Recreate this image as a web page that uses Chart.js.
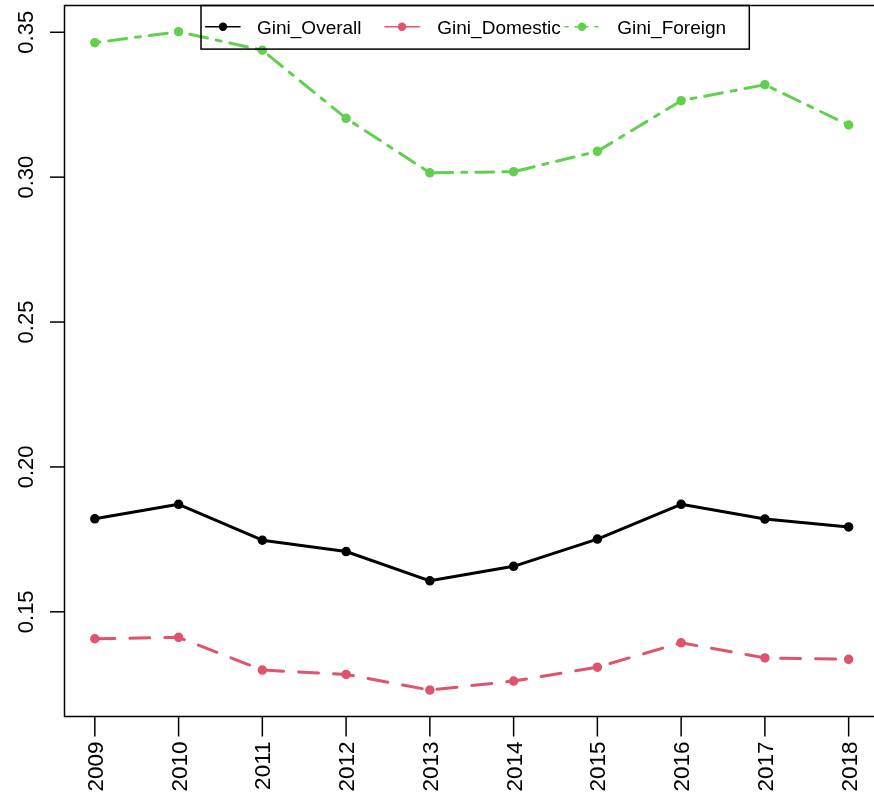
<!DOCTYPE html>
<html>
<head>
<meta charset="utf-8">
<script src="https://cdn.jsdelivr.net/npm/chart.js@4/dist/chart.umd.min.js"></script>
<style>
  html, body { margin: 0; padding: 0; background: #ffffff; overflow: hidden; }
  #wrap { position: relative; width: 874px; height: 801px; }
</style>
</head>
<body>
<div id="wrap"><canvas id="c" width="874" height="801"></canvas></div>
<script>
// Gini coefficients by year
const years = [2009, 2010, 2011, 2012, 2013, 2014, 2015, 2016, 2017, 2018];
const giniOverall  = [0.1821, 0.1871, 0.1747, 0.1708, 0.1607, 0.1657, 0.1751, 0.1871, 0.1820, 0.1793];
const giniDomestic = [0.1407, 0.1412, 0.1299, 0.1284, 0.1230, 0.1261, 0.1309, 0.1393, 0.1341, 0.1336];
const giniForeign  = [0.3464, 0.3502, 0.3438, 0.3203, 0.3015, 0.3019, 0.3089, 0.3264, 0.3319, 0.3180];
const seriesNames  = ['Gini_Overall', 'Gini_Domestic', 'Gini_Foreign'];
const yTicks       = [0.15, 0.20, 0.25, 0.30, 0.35];
const yTickLabels  = ['0.15', '0.20', '0.25', '0.30', '0.35'];

const FONT = '"Liberation Sans", Arial, Helvetica, sans-serif';
const toPoints = vals => vals.map((v, i) => ({ x: years[i], y: v }));

function series(label, vals, color, dash) {
  return {
    label: label,
    data: toPoints(vals),
    borderColor: color,
    backgroundColor: color,
    borderWidth: 3,
    borderDash: dash,
    borderCapStyle: 'round',
    borderJoinStyle: 'round',
    pointRadius: 4,
    pointBorderWidth: 1.5,
    pointBackgroundColor: color,
    pointBorderColor: color,
    tension: 0
  };
}

// Axes, frame and legend drawn in base-graphics style
const framePlugin = {
  id: 'frame',
  afterDraw(chart) {
    const ctx = chart.ctx;
    const a = chart.chartArea;
    const xs = chart.scales.x, ys = chart.scales.y;
    ctx.save();
    ctx.strokeStyle = '#000';
    ctx.fillStyle = '#000';
    ctx.lineWidth = 1.5;

    // plot box (right side runs past the canvas edge)
    ctx.beginPath();
    ctx.moveTo(a.right + 20, a.top);
    ctx.lineTo(a.left, a.top);
    ctx.lineTo(a.left, a.bottom);
    ctx.lineTo(a.right + 20, a.bottom);
    ctx.stroke();

    // y axis ticks and rotated labels
    ctx.font = '22px ' + FONT;
    yTicks.forEach((v, i) => {
      const py = ys.getPixelForValue(v);
      ctx.beginPath();
      ctx.moveTo(a.left - 14.5, py);
      ctx.lineTo(a.left, py);
      ctx.stroke();
      ctx.save();
      ctx.translate(a.left - 32, py);
      ctx.rotate(-Math.PI / 2);
      ctx.textAlign = 'center';
      ctx.textBaseline = 'alphabetic';
      ctx.fillText(yTickLabels[i], 0, 0);
      ctx.restore();
    });

    // x axis ticks and vertical labels
    ctx.font = '22.5px ' + FONT;
    years.forEach(yr => {
      const px = xs.getPixelForValue(yr);
      ctx.beginPath();
      ctx.moveTo(px, a.bottom);
      ctx.lineTo(px, a.bottom + 20);
      ctx.stroke();
      ctx.save();
      ctx.translate(px + 8, a.bottom + 25);
      ctx.rotate(-Math.PI / 2);
      ctx.textAlign = 'right';
      ctx.textBaseline = 'alphabetic';
      ctx.fillText(String(yr), 0, 0);
      ctx.restore();
    });

    // legend
    const lx = 201, ly = a.top, lw = 548.3, lh = 43.6;
    ctx.lineWidth = 1.5;
    ctx.strokeRect(lx, ly, lw, lh);
    const rowY = 26.7;
    const items = [
      { seg: [205.7, 240], dot: 223, text: 257,   dash: [] },
      { seg: [385, 419.3], dot: 402, text: 437.3, dash: [] },
      { seg: [565, 599],   dot: 582, text: 617.3, dash: [3, 7] }
    ];
    ctx.font = '19px ' + FONT;
    ctx.textAlign = 'left';
    ctx.textBaseline = 'alphabetic';
    chart.data.datasets.forEach((ds, i) => {
      const it = items[i];
      ctx.save();
      ctx.strokeStyle = ds.borderColor;
      ctx.lineWidth = 1.6;
      ctx.lineCap = 'round';
      ctx.setLineDash(it.dash);
      ctx.beginPath();
      ctx.moveTo(it.seg[0], rowY);
      ctx.lineTo(it.seg[1], rowY);
      ctx.stroke();
      ctx.setLineDash([]);
      ctx.fillStyle = ds.borderColor;
      ctx.beginPath();
      ctx.arc(it.dot, rowY, 4.2, 0, Math.PI * 2);
      ctx.fill();
      ctx.restore();
      ctx.fillStyle = '#000';
      ctx.fillText(ds.label, it.text, rowY + 7);
    });
    ctx.restore();
  }
};

new Chart(document.getElementById('c'), {
  type: 'line',
  data: {
    datasets: [
      series(seriesNames[0], giniOverall,  '#000000', []),
      series(seriesNames[1], giniDomestic, '#DF536B', [20, 15]),
      series(seriesNames[2], giniForeign,  '#61D04F', [5, 9, 18, 9])
    ]
  },
  options: {
    responsive: false,
    animation: false,
    devicePixelRatio: 1,
    layout: { padding: { top: 4.7, left: 0, right: 0, bottom: 0 } },
    plugins: { legend: { display: false }, tooltip: { enabled: false } },
    scales: {
      x: {
        type: 'linear',
        min: 2008.638,
        max: 2018.237,
        grid: { display: false },
        border: { display: false },
        ticks: { display: false },
        afterFit(s) { s.height = 84.5; }
      },
      y: {
        type: 'linear',
        min: 0.11387,
        max: 0.35924,
        grid: { display: false },
        border: { display: false },
        ticks: { display: false },
        afterFit(s) { s.width = 64.5; }
      }
    }
  },
  plugins: [framePlugin]
});
</script>
</body>
</html>
